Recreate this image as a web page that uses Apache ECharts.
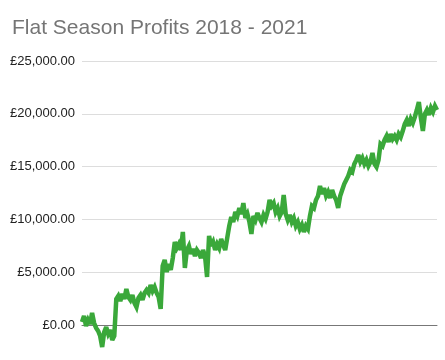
<!DOCTYPE html>
<html>
<head>
<meta charset="utf-8">
<script src="https://cdn.jsdelivr.net/npm/echarts@6/dist/echarts.min.js"></script>
<style>html,body{margin:0;padding:0;background:#fff}#c{width:445px;height:360px}</style>
</head>
<body>
<div id="c"></div>
<script>
var titleText = 'Flat Season Profits 2018 - 2021';
var yTicks = [0, 5000, 10000, 15000, 20000, 25000];
var profits = [
 280, 850, -90, 470, 90, 1140, 190, -280, -570, -1040,
 -2080, -660, -190, -850, -470, -1420, -1040, 2460, 2750, 2270,
 2940, 2460, 3410, 2650, 2370, 2840, 2080, 1700, 2560, 2840,
 2370, 3030, 3310, 3030, 3790, 3220, 3600, 3030, 2650, 1520,
 5590, 6160, 5020, 5780, 5210, 6340, 7860, 7290, 7670, 7100,
 8810, 5400, 7100, 7480, 6720, 7200, 6530, 7100, 6820, 6340,
 7100, 6530, 4550, 8430, 7480, 7860, 7100, 7670, 7290, 8140,
 7580, 7100, 8240, 9380, 10230, 9750, 10700, 10320, 11080, 10510,
 11550, 10130, 10510, 9750, 8620, 10320, 9940, 10610, 10130, 9750,
 10420, 10040, 10700, 11840, 11270, 11550, 10700, 11080, 10320, 10700,
 12310, 10510, 9940, 10420, 9750, 10130, 9380, 9750, 9090, 9470,
 8810, 9380, 9090, 10320, 11270, 11080, 11840, 12220, 13160, 12410,
 12970, 12220, 12600, 12030, 12780, 12220, 11840, 11080, 12220, 12780,
 13350, 13730, 14110, 14680, 14490, 15250, 15630, 16100, 15440, 15810,
 15250, 15630, 15060, 15440, 16290, 15250, 14960, 15630, 17140, 16950,
 17520, 17900, 17330, 18090, 17610, 17900, 17520, 18090, 17800, 18370,
 19030, 19410, 18850, 19510, 19130, 19700, 20360, 21120, 19600, 18370,
 19980, 20360, 19890, 20550, 20170, 20740, 20360
];
var races = profits.map(function (_, i) { return i + 1; });

var chart = echarts.init(document.getElementById('c'), null, {renderer: 'canvas'});
chart.setOption({
  animation: false,
  backgroundColor: '#ffffff',
  title: {
    text: titleText,
    left: 7, top: 13,
    textStyle: {color: '#757575', fontSize: 21, fontWeight: 'normal', fontFamily: 'Liberation Sans, Arial, sans-serif'}
  },
  grid: {left: 82, right: 8, top: 61, bottom: 0, containLabel: false},
  xAxis: {
    type: 'category',
    data: races,
    boundaryGap: false,
    axisLine: {show: true, onZero: true, lineStyle: {color: '#777777', width: 1}},
    axisTick: {show: false},
    axisLabel: {show: false},
    splitLine: {show: false}
  },
  yAxis: {
    type: 'value',
    min: -3314,
    max: yTicks[yTicks.length - 1],
    splitNumber: 5,
    axisLine: {show: false},
    axisTick: {show: false},
    splitLine: {show: true, lineStyle: {color: '#dddddd', width: 1}},
    axisLabel: {
      showMinLabel: false,
      margin: 7,
      color: '#222222',
      fontSize: 13,
      fontFamily: 'Liberation Sans, Arial, sans-serif',
      formatter: function (v) {
        if (v < 0) return '';
        return '£' + v.toLocaleString('en-GB', {minimumFractionDigits: 2, maximumFractionDigits: 2});
      }
    }
  },
  series: [{
    type: 'line',
    data: profits,
    showSymbol: false,
    symbol: 'none',
    smooth: false,
    lineStyle: {color: '#3aa83a', width: 4.5, join: 'miter', miterLimit: 3},
    itemStyle: {color: '#3aa83a'}
  }]
});
</script>
</body>
</html>
